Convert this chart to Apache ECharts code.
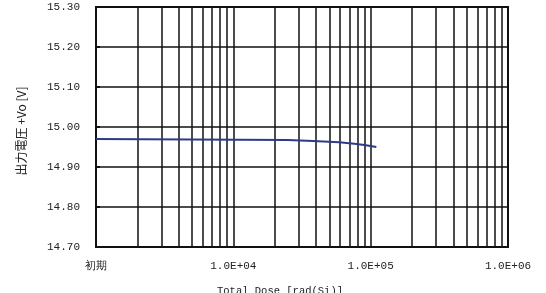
<!DOCTYPE html>
<html><head><meta charset="utf-8">
<script src="https://cdn.jsdelivr.net/npm/echarts@6/dist/echarts.min.js"></script>
<style>html,body{margin:0;padding:0;background:#fff}#c{width:546px;height:293px}</style>
</head><body><div id="c"></div>
<script>
const doseX = [1000, 24800, 38000, 59000, 76000, 90000, 110000];
const voltage = [14.970, 14.9675, 14.965, 14.962, 14.958, 14.955, 14.950];
const xTickLabels = {1000: '初期', 10000: '1.0E+04', 100000: '1.0E+05', 1000000: '1.0E+06'};
const minorGridX = [2e3,3e3,4e3,5e3,6e3,7e3,8e3,9e3,2e4,3e4,4e4,5e4,6e4,7e4,8e4,9e4,2e5,3e5,4e5,5e5,6e5,7e5,8e5,9e5];
const yName = '出力電圧 +Vo [V]';
const xName = 'Total Dose [rad(Si)]';

const chart = echarts.init(document.getElementById('c'));
const labelFont = {color: '#222', fontFamily: 'Liberation Mono', fontSize: 11};
chart.setOption({
  animation: false,
  grid: {left: 96, right: 38, top: 7, bottom: 46, show: true, borderColor: '#111', borderWidth: 2, backgroundColor: 'transparent'},
  xAxis: {
    type: 'log', logBase: 10, min: 1000, max: 1000000,
    axisLine: {show: true, lineStyle: {color: '#111', width: 2}},
    axisTick: {show: false},
    splitLine: {show: true, lineStyle: {color: '#111', width: 1.5}},
    axisLabel: Object.assign({margin: 14, formatter: v => xTickLabels[Math.round(v)] || ''}, labelFont)
  },
  yAxis: {
    type: 'value', min: 14.7, max: 15.3, interval: 0.1,
    name: yName, nameLocation: 'middle', nameGap: 69, nameRotate: 90,
    nameTextStyle: {color: '#222', fontFamily: 'Noto Sans CJK JP', fontSize: 12, padding: [0, 8, 0, 0]},
    axisLine: {show: true, lineStyle: {color: '#111', width: 2}},
    axisTick: {show: true, inside: true, length: 4, lineStyle: {color: '#111', width: 2}},
    splitLine: {show: true, lineStyle: {color: '#111', width: 1.5}},
    axisLabel: Object.assign({margin: 16, formatter: v => v.toFixed(2)}, labelFont)
  },
  graphic: [{type: 'text', left: 217, top: 286, style: {text: xName, fill: '#222', font: '10.5px "Liberation Mono"'}}],
  series: [{
    type: 'line', data: doseX.map((x, i) => [x, voltage[i]]),
    showSymbol: false, symbol: 'none',
    lineStyle: {color: '#2e3a87', width: 2}, z: 3,
    markLine: {
      silent: true, symbol: 'none', label: {show: false}, z: 2,
      lineStyle: {color: '#111', width: 1.5, type: 'solid'},
      data: minorGridX.map(v => ({xAxis: v}))
    }
  }]
});
</script></body></html>
